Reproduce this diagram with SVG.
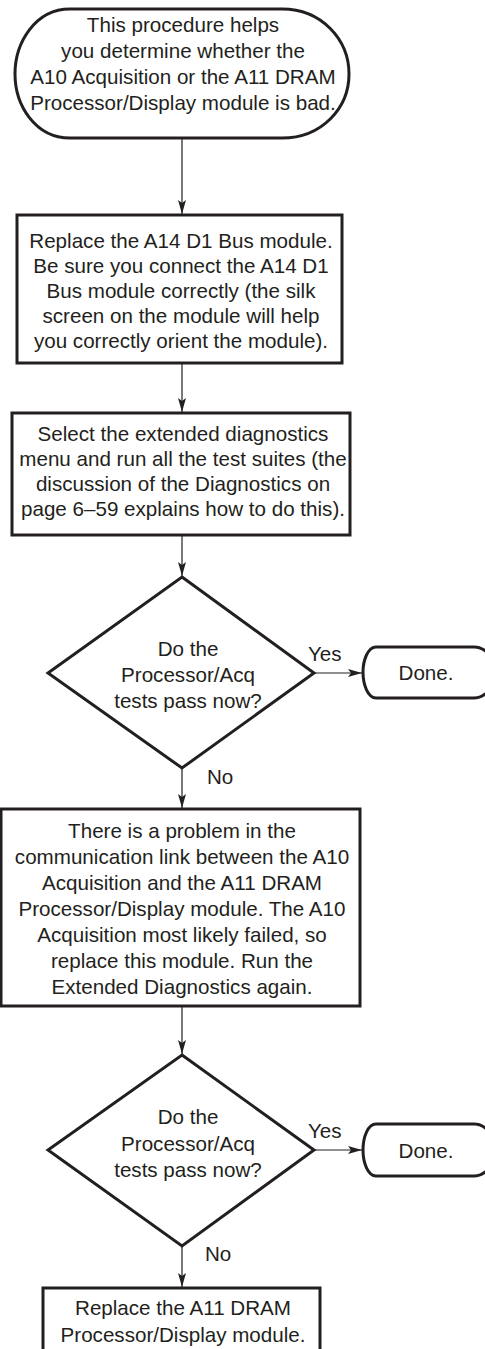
<svg xmlns="http://www.w3.org/2000/svg" width="485" height="1349" viewBox="0 0 485 1349">
<style>
.shape{fill:#fff;stroke:#231f20;stroke-width:3;stroke-linejoin:miter}
.conn{fill:none;stroke:#231f20;stroke-width:1.2}
text{font-family:"Liberation Sans",Arial,sans-serif;font-size:20.6px;fill:#231f20;text-anchor:middle}
.lbl{text-anchor:start}
</style>
<defs>
<marker id="ah" viewBox="0 0 14 8" refX="14" refY="4" markerWidth="14" markerHeight="8" markerUnits="userSpaceOnUse" orient="auto">
<path d="M0,0 L14,4 L0,8 L3,4 Z" fill="#231f20"/>
</marker>
</defs>
<rect width="485" height="1349" fill="#fff"/>
<g id="connectors">
<line class="conn" x1="182" y1="139" x2="182" y2="214" marker-end="url(#ah)"/>
<line class="conn" x1="182" y1="364" x2="182" y2="412" marker-end="url(#ah)"/>
<line class="conn" x1="182" y1="536" x2="182" y2="576" marker-end="url(#ah)"/>
<line class="conn" x1="182" y1="768" x2="182" y2="808" marker-end="url(#ah)"/>
<line class="conn" x1="314" y1="673" x2="362" y2="673" marker-end="url(#ah)"/>
<line class="conn" x1="182" y1="1007" x2="182" y2="1054" marker-end="url(#ah)"/>
<line class="conn" x1="314" y1="1150" x2="362" y2="1150" marker-end="url(#ah)"/>
<line class="conn" x1="182" y1="1246" x2="182" y2="1287" marker-end="url(#ah)"/>
<text class="lbl" x="308" y="661">Yes</text>
<text class="lbl" x="207" y="784">No</text>
<text class="lbl" x="308" y="1138">Yes</text>
<text class="lbl" x="205" y="1261">No</text>
</g>
<g id="start">
<path class="shape" d="M70,9 L282,9 C322,9 349,40 349,74 C349,108 322,138 282,138 L70,138 C35,138 15,105 15,74 C15,43 35,9 70,9 Z"/>
<text x="183" y="32">This procedure helps</text>
<text x="183" y="58">you determine whether the</text>
<text x="183" y="84">A10 Acquisition or the A11 DRAM</text>
<text x="183" y="110">Processor/Display module is bad.</text>
</g>
<g id="replace-a14">
<rect class="shape" x="17" y="215" width="325" height="148"/>
<text x="181" y="248">Replace the A14 D1 Bus module.</text>
<text x="181" y="273">Be sure you connect the A14 D1</text>
<text x="181" y="298">Bus module correctly (the silk</text>
<text x="181" y="323">screen on the module will help</text>
<text x="181" y="348">you correctly orient the module).</text>
</g>
<g id="run-diag">
<rect class="shape" x="12" y="413" width="338" height="122"/>
<text x="183" y="441">Select the extended diagnostics</text>
<text x="183" y="466">menu and run all the test suites (the</text>
<text x="183" y="491">discussion of the Diagnostics on</text>
<text x="183" y="516">page 6–59 explains how to do this).</text>
</g>
<g id="decision-1">
<polygon class="shape" points="182,577 314,673 182,768 48,673"/>
<text x="188" y="656">Do the</text>
<text x="188" y="682">Processor/Acq</text>
<text x="188" y="708">tests pass now?</text>
</g>
<g id="done-1">
<path class="shape" d="M376,647 L474,647 C486,647 496,660 496,672 C496,685 486,698 474,698 L376,698 C368,698 363,685 363,672 C363,660 368,647 376,647 Z"/>
<text x="426" y="680">Done.</text>
</g>
<g id="replace-a10">
<rect class="shape" x="1" y="809" width="359" height="197"/>
<text x="182" y="838">There is a problem in the</text>
<text x="182" y="864">communication link between the A10</text>
<text x="182" y="890">Acquisition and the A11 DRAM</text>
<text x="182" y="916">Processor/Display module. The A10</text>
<text x="182" y="942">Acquisition most likely failed, so</text>
<text x="182" y="968">replace this module. Run the</text>
<text x="182" y="994">Extended Diagnostics again.</text>
</g>
<g id="decision-2">
<polygon class="shape" points="182,1055 314,1150 182,1246 48,1150"/>
<text x="188" y="1124">Do the</text>
<text x="188" y="1151">Processor/Acq</text>
<text x="188" y="1177">tests pass now?</text>
</g>
<g id="done-2">
<path class="shape" d="M376,1124 L474,1124 C486,1124 496,1137 496,1150 C496,1163 486,1176 474,1176 L376,1176 C368,1176 363,1163 363,1150 C363,1137 368,1124 376,1124 Z"/>
<text x="426" y="1158">Done.</text>
</g>
<g id="replace-a11">
<rect class="shape" x="43" y="1288" width="277" height="80"/>
<text x="183" y="1315">Replace the A11 DRAM</text>
<text x="183" y="1342">Processor/Display module.</text>
</g>
</svg>
